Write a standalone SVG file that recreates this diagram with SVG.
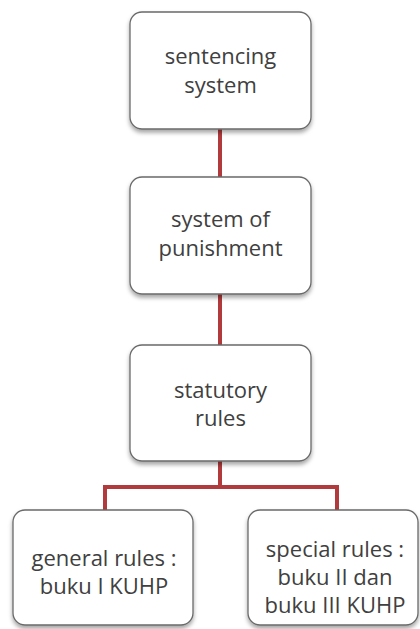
<svg xmlns="http://www.w3.org/2000/svg" width="420" height="629" viewBox="0 0 420 629">
<defs>
<filter id="sh" x="-10%" y="-10%" width="120%" height="130%">
<feDropShadow dx="0" dy="3" stdDeviation="2" flood-color="#000" flood-opacity="0.35"/>
</filter>
</defs>
<style>
.box{fill:#fff;stroke:#6a6a6a;stroke-width:1.3;filter:url(#sh)}
.t{font-family:"Open Sans","Liberation Sans",sans-serif;font-size:22px;fill:#404040;text-anchor:middle}
.c{stroke:#b03a3c;stroke-width:4;fill:none}
</style>
<rect width="420" height="629" fill="#fff"/>
<g id="connectors">
<line class="c" x1="220" y1="129" x2="220" y2="177"/>
<line class="c" x1="220" y1="294" x2="220" y2="345"/>
<polyline class="c" points="220,461 220,487 105,487 105,510"/>
<polyline class="c" points="220,487 337,487 337,510"/>
</g>
<g id="n1">
<rect class="box" x="130" y="12" width="181" height="117" rx="12"/>
<text class="t" x="220.5" y="64">sentencing</text>
<text class="t" x="220.5" y="93">system</text>
</g>
<g id="n2">
<rect class="box" x="130" y="177" width="181" height="117" rx="12"/>
<text class="t" x="220.5" y="227">system of</text>
<text class="t" x="220.5" y="256">punishment</text>
</g>
<g id="n3">
<rect class="box" x="130" y="345" width="181" height="116" rx="12"/>
<text class="t" x="220.5" y="398">statutory</text>
<text class="t" x="220.5" y="426">rules</text>
</g>
<g id="n4">
<rect class="box" x="13" y="510" width="180" height="115" rx="12"/>
<text class="t" x="104" y="566">general rules :</text>
<text class="t" x="104" y="594">buku I KUHP</text>
</g>
<g id="n5">
<rect class="box" x="248" y="510" width="170" height="115" rx="12"/>
<text class="t" x="335" y="557">special rules :</text>
<text class="t" x="335" y="585">buku II dan</text>
<text class="t" x="335" y="613">buku III KUHP</text>
</g>
</svg>
